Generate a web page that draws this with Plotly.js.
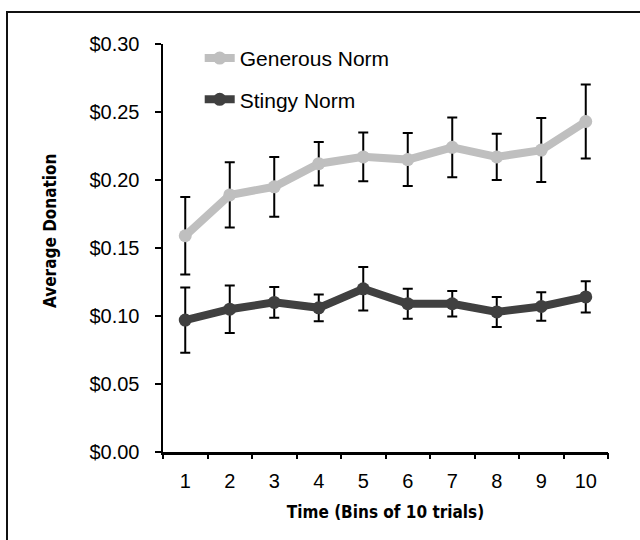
<!DOCTYPE html>
<html>
<head>
<meta charset="utf-8">
<script src="https://cdn.plot.ly/plotly-3.0.1.min.js"></script>
<style>
html,body{margin:0;padding:0;background:#fff;}
#wrap{position:relative;width:640px;height:540px;}
#chart{position:absolute;left:0;top:0;width:640px;height:540px;}
#frame{position:absolute;left:6px;top:11px;width:640px;height:540px;border-left:2px solid #111;border-top:2px solid #111;pointer-events:none;}
</style>
</head>
<body>
<div id="wrap"><div id="chart"></div><div id="frame"></div></div>
<script>
const bins = [1, 2, 3, 4, 5, 6, 7, 8, 9, 10];
const seriesNames = ["Generous Norm", "Stingy Norm"];
const generous = [0.159, 0.189, 0.195, 0.212, 0.217, 0.215, 0.224, 0.217, 0.222, 0.243];
const generousErr = [0.0285, 0.024, 0.022, 0.016, 0.018, 0.0195, 0.022, 0.017, 0.0235, 0.0272];
const stingy = [0.097, 0.105, 0.110, 0.106, 0.120, 0.109, 0.109, 0.103, 0.107, 0.114];
const stingyErr = [0.024, 0.0175, 0.0113, 0.0098, 0.016, 0.011, 0.0093, 0.011, 0.0105, 0.0115];
const yTicks = [0, 0.05, 0.10, 0.15, 0.20, 0.25, 0.30];
const yTickText = ["$0.00", "$0.05", "$0.10", "$0.15", "$0.20", "$0.25", "$0.30"];
const xBoundaries = [0.5, 1.5, 2.5, 3.5, 4.5, 5.5, 6.5, 7.5, 8.5, 9.5, 10.5];
const xTitle = "Time (Bins of 10 trials)";
const yTitle = "Average Donation";

const tickFont = {family: "Liberation Sans, Arial, sans-serif", size: 20, color: "#000"};
const titleFont = {family: "DejaVu Sans Condensed, DejaVu Sans, sans-serif", size: 17, color: "#000", weight: "bold"};

function makeTrace(name, y, err, color, group) {
  return {
    x: bins, y: y, name: name, type: "scatter", mode: "lines+markers",
    legendgroup: group,
    line: {color: color, width: 8},
    marker: {color: color, size: 13},
    error_y: {type: "data", array: err, visible: true, color: "#000", thickness: 2, width: 5}
  };
}

const data = [
  makeTrace(seriesNames[0], generous, generousErr, "#bfbfbf", "g"),
  makeTrace(seriesNames[1], stingy, stingyErr, "#404040", "s"),
  {x: xBoundaries, y: xBoundaries.map(() => null), xaxis: "x2", yaxis: "y", showlegend: false, hoverinfo: "skip", type: "scatter", mode: "markers"}
];

const layout = {
  width: 640, height: 540,
  margin: {l: 163, r: 32, t: 44, b: 88},
  paper_bgcolor: "#fff", plot_bgcolor: "#fff",
  showlegend: true,
  legend: {x: 0.0825, y: 1.015, xanchor: "left", yanchor: "top", bgcolor: "rgba(0,0,0,0)",
           font: {family: "Liberation Sans, Arial, sans-serif", size: 21, color: "#000"},
           tracegroupgap: 11},
  xaxis: {range: [0.5, 10.5], tickvals: bins, ticktext: bins.map(String), ticks: "",
          showgrid: false, zeroline: false, showline: true, linecolor: "#000", linewidth: 2.5,
          tickfont: tickFont, ticklabelstandoff: 9,
          title: {text: xTitle, font: titleFont, standoff: 16}},
  xaxis2: {overlaying: "x", matches: "x", range: [0.5, 10.5], tickvals: xBoundaries, showticklabels: false,
           ticks: "outside", ticklen: 6, tickwidth: 2, tickcolor: "#000",
           showgrid: false, zeroline: false, showline: false, side: "bottom"},
  yaxis: {range: [0, 0.30], tickvals: yTicks, ticktext: yTickText, ticks: "outside", ticklen: 6,
          tickwidth: 2, tickcolor: "#000", showgrid: false, zeroline: false, showline: true,
          linecolor: "#000", linewidth: 2.5, tickfont: tickFont, ticklabelstandoff: 11},
  annotations: [{text: yTitle, textangle: -90, font: titleFont, showarrow: false,
                 xref: "paper", yref: "paper", x: -0.254, y: 0.5417, xanchor: "center", yanchor: "middle"}]
};

Plotly.newPlot("chart", data, layout, {displayModeBar: false, staticPlot: true});
</script>
</body>
</html>
